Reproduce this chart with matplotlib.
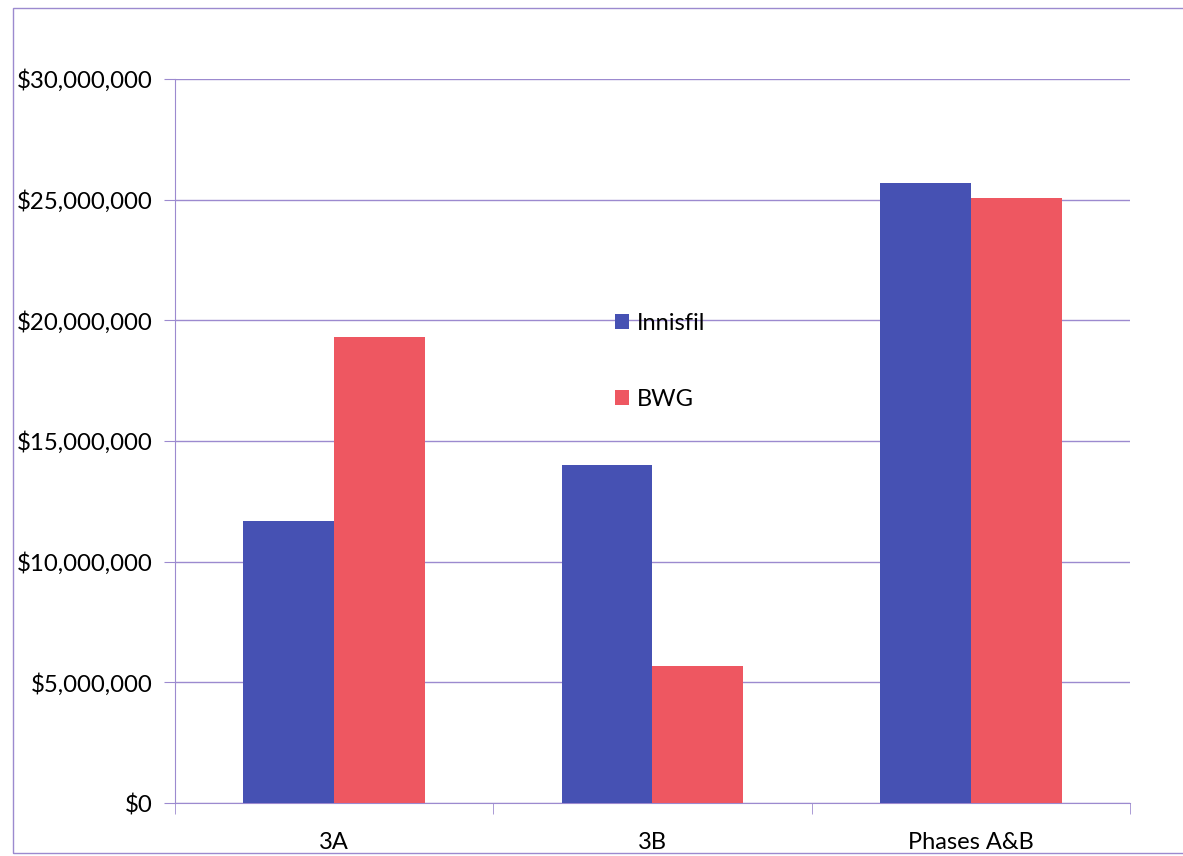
import matplotlib.pyplot as plt
import numpy as np
from matplotlib.patches import Rectangle
from matplotlib.ticker import FuncFormatter, MultipleLocator

categories = ["3A", "3B", "Phases A&B"]
innisfil = [11700000, 13990000, 25700000]
bwg = [19320000, 5680000, 25070000]

blue = "#4651B3"
red = "#EE5761"
grid_col = "#9C8ACF"

plt.rcParams["font.family"] = ["Lato", "DejaVu Sans"]

fig = plt.figure(figsize=(11.83, 8.56), dpi=100)
ax = fig.add_axes([0.1479, 0.0619, 0.8073, 0.8458])

x = np.arange(len(categories))
w = 1 / 3.5
ax.bar(x - w / 2, innisfil, w, color=blue, label="Innisfil", zorder=3)
ax.bar(x + w / 2, bwg, w, color=red, label="BWG", zorder=3)

ax.set_xlim(-0.5, 2.5)
ax.set_ylim(0, 30000000)
ax.yaxis.set_major_locator(MultipleLocator(5000000))
ax.yaxis.set_major_formatter(FuncFormatter(lambda v, p: "${:,.0f}".format(v)))
ax.grid(axis="y", color=grid_col, lw=1, zorder=0)

ax.set_xticks(x)
ax.set_xticklabels(categories)
ax.set_xticks([-0.5, 0.5, 1.5, 2.5], minor=True)
ax.tick_params(axis="x", which="major", length=0, pad=21, labelsize=17)
ax.tick_params(axis="x", which="minor", length=8, color=grid_col, direction="out")
ax.tick_params(axis="y", length=8, color=grid_col, pad=8, labelsize=17.3)

for side in ["top", "right"]:
    ax.spines[side].set_visible(False)
for side in ["left", "bottom"]:
    ax.spines[side].set_color(grid_col)

ax.legend(loc="center left", bbox_to_anchor=(0.438, 0.61), frameon=False,
          fontsize=17, handlelength=0.6, handleheight=0.6, handletextpad=0.35,
          labelspacing=2.3)

# outer chart border
fig.patches.append(Rectangle((13 / 1183, 3 / 856), 1.2, 845 / 856,
                             transform=fig.transFigure, fill=False,
                             edgecolor=grid_col, lw=1))

fig.savefig("out.png", dpi=100)
